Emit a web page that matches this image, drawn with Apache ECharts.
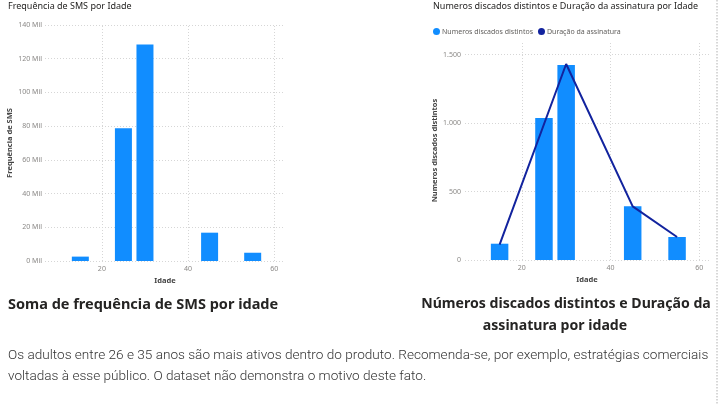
<!DOCTYPE html>
<html>
<head>
<meta charset="utf-8">
<script src="https://cdn.jsdelivr.net/npm/echarts@6/dist/echarts.min.js"></script>
<style>
html,body{margin:0;padding:0;background:#fff;}
#c{width:720px;height:405px;}
</style>
</head>
<body>
<div id="c"></div>
<script>
// Data
const idade = [15, 25, 30, 45, 55];
const freqSMS = [2600, 78700, 128500, 16800, 4900];
const numerosDiscados = [119, 1037, 1424, 392, 168];
const duracaoIdade = [15, 30, 45, 55];
const duracaoAssinatura = [112, 1432, 392, 168];
const xTicks = [20, 40, 60];
const leftYTicks = [0, 20000, 40000, 60000, 80000, 100000, 120000, 140000];
const rightYTicks = [0, 500, 1000, 1500];

const FONT = 'Noto Sans';
const BLUE = '#118DFF';
const NAVY = '#12239E';
const GRID = '#d6d6d6';
const LABEL = '#8a8886';

function fmtThousands(v) {
  return String(v).replace(/\B(?=(\d{3})+(?!\d))/g, '.');
}

const gridLineStyle = { color: GRID, width: 1, type: [1, 2] };

function markLines(xs, ys) {
  const data = [];
  xs.forEach(v => data.push({ xAxis: v }));
  ys.forEach(v => data.push({ yAxis: v }));
  return {
    silent: true, symbol: 'none', z: 0, animation: false,
    label: { show: false },
    lineStyle: gridLineStyle,
    emphasis: { disabled: true },
    data: data
  };
}

const bigTitle = { fontSize: 14.5, fontWeight: 'bold', color: '#252423', fontFamily: FONT };
const bigTitleR = { fontSize: 14.1, fontWeight: 'bold', color: '#252423', fontFamily: FONT };
const smallTitle = { fontSize: 9, fontWeight: 'normal', color: '#252423', fontFamily: FONT };

const chart = echarts.init(document.getElementById('c'));
chart.setOption({
  animation: false,
  textStyle: { fontFamily: FONT },
  title: [
    { text: 'Frequência de SMS por Idade', left: 8, top: 2, padding: 0, textStyle: smallTitle },
    { text: 'Numeros discados distintos e Duração da assinatura por Idade', left: 433, top: 2, padding: 0, textStyle: smallTitle },
    { text: 'Soma de frequência de SMS por idade', left: 8, top: 297, padding: 0, textStyle: bigTitle },
    { text: 'Números discados distintos e Duração da', left: 566, top: 297, padding: 0, textAlign: 'center', textStyle: bigTitleR },
    { text: 'assinatura por idade', left: 555, top: 319, padding: 0, textAlign: 'center', textStyle: bigTitleR },
    { text: 'Os adultos entre 26 e 35 anos são mais ativos dentro do produto. Recomenda-se, por exemplo, estratégias comerciais\nvoltadas à esse público. O dataset não demonstra o motivo deste fato.',
      left: 8, top: 345, padding: 0,
      textStyle: { fontSize: 13.6, fontWeight: 300, color: '#333', fontFamily: 'Roboto', lineHeight: 21 } }
  ],
  legend: {
    left: 428, top: 23, itemWidth: 7, itemHeight: 7, itemGap: 5, icon: 'circle',
    textStyle: { fontSize: 7, color: '#605E5C', fontFamily: FONT, padding: [0, 0, 0, -3] },
    data: [
      { name: 'Numeros discados distintos', itemStyle: { color: BLUE } },
      { name: 'Duração da assinatura', itemStyle: { color: NAVY } }
    ]
  },
  grid: [
    { left: 45, right: 435, top: 25, bottom: 144 },
    { left: 465, right: 11, top: 41, bottom: 145 }
  ],
  xAxis: [
    { type: 'value', gridIndex: 0, min: 6.8, max: 62.5,
      name: 'Idade', nameLocation: 'middle', nameGap: 13,
      nameTextStyle: { fontSize: 7.5, color: '#444', fontWeight: 'bold' },
      axisLine: { show: false }, axisTick: { show: false }, splitLine: { show: false },
      axisLabel: { customValues: xTicks, fontSize: 7, color: LABEL, margin: 4 } },
    { type: 'value', gridIndex: 1, min: 7.2, max: 62.2,
      name: 'Idade', nameLocation: 'middle', nameGap: 13,
      nameTextStyle: { fontSize: 7.5, color: '#444', fontWeight: 'bold' },
      axisLine: { show: false }, axisTick: { show: false }, splitLine: { show: false },
      axisLabel: { customValues: xTicks, fontSize: 7, color: LABEL, margin: 4 } }
  ],
  yAxis: [
    { type: 'value', gridIndex: 0, min: 0, max: 140000,
      name: 'Frequência de SMS', nameLocation: 'middle', nameGap: 29,
      nameTextStyle: { fontSize: 7.5, color: '#444', fontWeight: 'bold' },
      axisLine: { show: false }, axisTick: { show: false }, splitLine: { show: false },
      axisLabel: { customValues: leftYTicks, fontSize: 7, color: LABEL, margin: 3,
        formatter: v => (v / 1000) + ' Mil' } },
    { type: 'value', gridIndex: 1, min: 0, max: 1600,
      name: 'Numeros discados distintos', nameLocation: 'middle', nameGap: 25,
      nameTextStyle: { fontSize: 7.5, color: '#444', fontWeight: 'bold' },
      axisLine: { show: false }, axisTick: { show: false }, splitLine: { show: false },
      axisLabel: { customValues: rightYTicks, fontSize: 7, color: LABEL, margin: 4,
        formatter: v => fmtThousands(v) } }
  ],
  graphic: [
    { type: 'line', shape: { x1: 717, y1: 0, x2: 717, y2: 405 },
      style: { stroke: '#b0b0b0', lineWidth: 1, lineDash: [1.5, 1.5] }, silent: true }
  ],
  series: [
    { name: 'Frequência de SMS', type: 'bar', xAxisIndex: 0, yAxisIndex: 0,
      barWidth: 17, itemStyle: { color: BLUE },
      data: idade.map((x, i) => [x, freqSMS[i]]),
      markLine: markLines(xTicks, leftYTicks) },
    { name: 'Numeros discados distintos', type: 'bar', xAxisIndex: 1, yAxisIndex: 1,
      barWidth: 17.5, itemStyle: { color: BLUE },
      data: idade.map((x, i) => [x, numerosDiscados[i]]),
      markLine: markLines(xTicks, rightYTicks) },
    { name: 'Duração da assinatura', type: 'line', xAxisIndex: 1, yAxisIndex: 1,
      showSymbol: false, symbol: 'none', z: 5,
      lineStyle: { color: NAVY, width: 2 }, itemStyle: { color: NAVY },
      data: duracaoIdade.map((x, i) => [x, duracaoAssinatura[i]]) }
  ]
});
</script>
</body>
</html>
